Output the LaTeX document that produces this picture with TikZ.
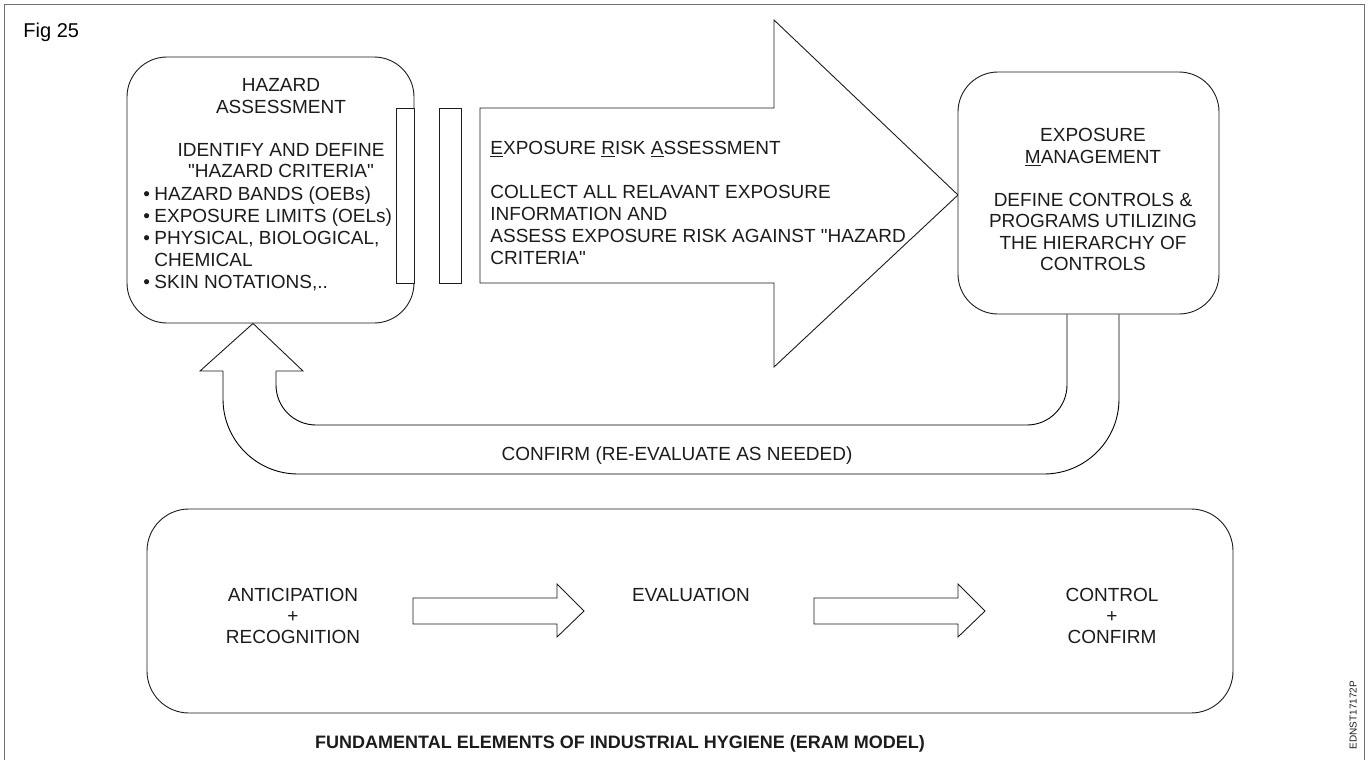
\documentclass[tikz,border=0pt]{standalone}
\usepackage{fontspec}
\setmainfont{Liberation Sans}[Ligatures=TeXOff]
\usepackage{tikz}
\usetikzlibrary{calc}
\definecolor{framegray}{HTML}{707070}
\definecolor{inkdark}{HTML}{1C1C1C}
\newcommand{\hzbullet}{\llap{•\hspace{4.5pt}}}

\tikzset{
  body/.style={font=\fontsize{19}{22}\selectfont, text=inkdark, inner sep=0pt},
  rbox/.style={draw=inkdark, fill=white, rounded corners=40pt, inner sep=0pt},
  gapbar/.style={draw=inkdark, fill=white, inner sep=0pt, minimum height=175pt},
  blockarrow/.style={draw=inkdark, fill=white, line join=miter}
}

\begin{document}
\begin{tikzpicture}[x=1pt,y=-1pt,line width=0.9pt]
  \useasboundingbox (0,0) rectangle (1371,760);
  \draw[framegray] (4,760) -- (4,4) -- (1364,4) -- (1364,760);
  \node[font=\fontsize{20}{24}\selectfont, anchor=base west, inner sep=0pt] (fig) at (23,37.2) {Fig 25};

  \node[rbox, minimum width=287pt, minimum height=266pt] (hazard) at (270.5,190) {};
  \node[body, font=\fontsize{19}{21.5}\selectfont, align=center, anchor=north] (hazhead) at (281,78.2)
    {HAZARD\\ASSESSMENT\\[21.5pt]IDENTIFY AND DEFINE\\"HAZARD CRITERIA"};
  \node[body, align=left, anchor=north west] (hazlist) at (154,186.2)
    {\hzbullet HAZARD BANDS (OEBs)\\\hzbullet EXPOSURE LIMITS (OELs)\\\hzbullet PHYSICAL, BIOLOGICAL,\\CHEMICAL\\\hzbullet SKIN NOTATIONS,..};

  \node[gapbar, minimum width=18pt] (barA) at (405,195.5) {};
  \node[gapbar, minimum width=22pt] (barB) at (450,195.5) {};

  \draw[blockarrow] (480,108) -- (774,108) -- (774,20) -- (958,195) -- (774,367) -- (774,283) -- (480,283) -- cycle;
  \node[body, align=left, anchor=north west] (eratext) at (490,141.2)
    {\underline{E}XPOSURE \underline{R}ISK \underline{A}SSESSMENT\\[22pt]COLLECT ALL RELAVANT EXPOSURE\\INFORMATION AND\\ASSESS EXPOSURE RISK AGAINST "HAZARD\\CRITERIA"};

  \node[rbox, minimum width=261pt, minimum height=242pt] (mgmt) at (1088.5,193) {};
  \node[body, font=\fontsize{19}{21.5}\selectfont, align=center, anchor=north] (mgmttext) at (1093,128.2)
    {EXPOSURE\\\underline{M}ANAGEMENT\\[21.5pt]DEFINE CONTROLS \&\\PROGRAMS UTILIZING\\THE HIERARCHY OF\\CONTROLS};

  \draw[rounded corners=40pt] ([xshift=-21.5pt]mgmt.south) -- (1067,425) -- (276,425) -- (276,371);
  \draw[blockarrow] (276,371) -- (303,371) -- ([xshift=-17.5pt]hazard.south) -- (200,371) -- (223,371);
  \draw[rounded corners=75pt] (223,371) -- (223,474) -- (1119,474) -- ([xshift=30.5pt]mgmt.south);
  \node[body, anchor=base] (confirm) at (677,460.8) {CONFIRM (RE-EVALUATE AS NEEDED)};

  \node[rbox, rounded corners=42pt, minimum width=1086pt, minimum height=204pt] (eram) at (690,611) {};
  \node[body, font=\fontsize{19}{21}\selectfont, align=center, anchor=north] (antic) at (293,588.2) {ANTICIPATION\\+\\RECOGNITION};
  \node[body, anchor=base] (evalu) at (691,601.8) {EVALUATION};
  \node[body, font=\fontsize{19}{21}\selectfont, align=center, anchor=north] (ctrl) at (1112,588.2) {CONTROL\\+\\CONFIRM};
  \foreach \x in {413,814}
    \draw[blockarrow] (\x,598) -- (\x+144,598) -- (\x+144,584) -- (\x+171,611) -- (\x+144,637) -- (\x+144,624) -- (\x,624) -- cycle;

  \node[font=\bfseries\fontsize{18}{20}\selectfont, text=inkdark, anchor=base, inner sep=0pt] (caption) at (620,748.4)
    {FUNDAMENTAL ELEMENTS OF INDUSTRIAL HYGIENE (ERAM MODEL)};
  \node[font=\fontsize{10}{12}\selectfont, text=inkdark, rotate=90, anchor=base, inner sep=0pt] (code) at (1356.6,715) {EDNST17172P};
\end{tikzpicture}
\end{document}
